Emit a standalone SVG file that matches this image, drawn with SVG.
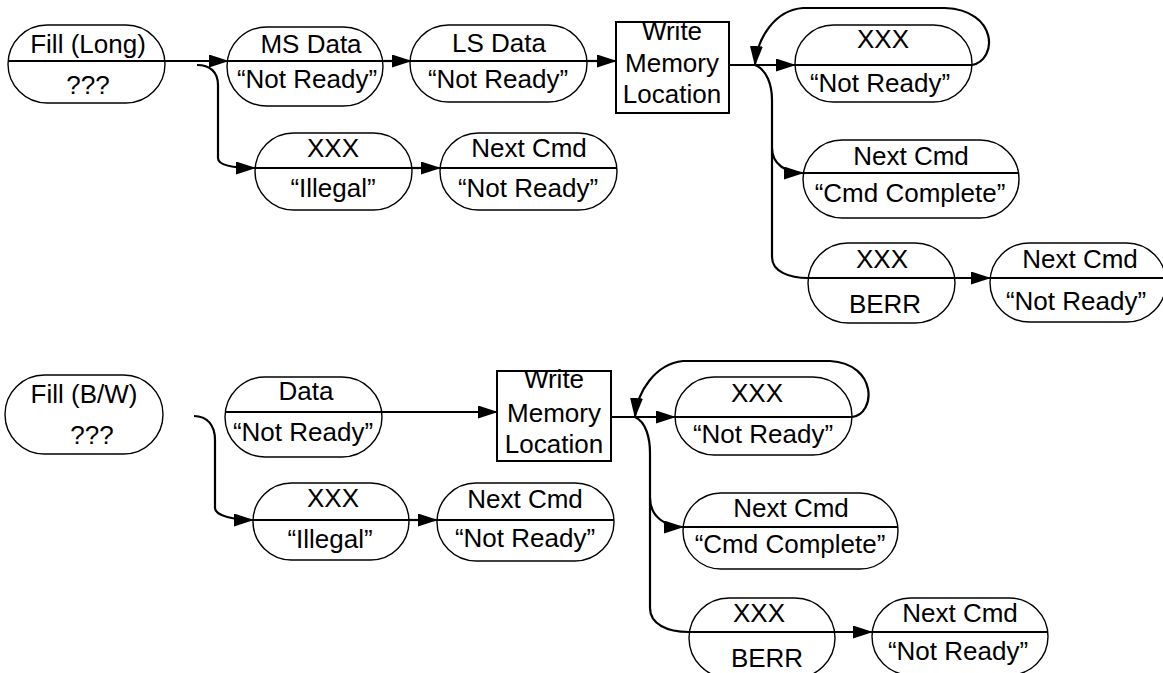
<svg xmlns="http://www.w3.org/2000/svg" width="1163" height="673" viewBox="0 0 1163 673">
<defs>
<style>
.p{fill:#fff;stroke:#000;stroke-width:1.4}
.b{fill:#fff;stroke:#000;stroke-width:2}
.d{stroke:#000;stroke-width:2.2;fill:none}
.c{stroke:#000;stroke-width:2.2;fill:none}
.a{marker-end:url(#ah)}
text{font-family:"Liberation Sans",Arial,sans-serif;font-size:26px;fill:#000;text-anchor:middle}
</style>
<marker id="ah" markerWidth="20" markerHeight="13" refX="19" refY="6.5" orient="auto" markerUnits="userSpaceOnUse"><path d="M0,0 L20,6.5 L0,13 z" fill="#000"/></marker>
</defs>
<rect width="1163" height="673" fill="#fff"/>

<g id="connectors">
<!-- top -->
<line class="c a" x1="165" y1="61" x2="228" y2="61"/>
<path class="c a" d="M197 65 C210 65 218 72 218 85 L218 158 C218 166 236 168 255 168"/>
<line class="c a" x1="383" y1="61" x2="411" y2="61"/>
<line class="c a" x1="587" y1="61" x2="616" y2="61"/>
<line class="c a" x1="412" y1="168" x2="440" y2="168"/>
<line class="c a" x1="729" y1="65" x2="795" y2="65"/>
<path class="c a" d="M972 65 C998 60 998 10 945 8 L803 8 C775 10 757 38 755 65"/>
<path class="c" d="M755 65 C767 70 772 85 772 100 L772 257 C772 272 790 278 808 278"/>
<path class="c a" d="M772 148 C772 164 786 173 803 173"/>
<line class="c a" x1="955" y1="278" x2="990" y2="278"/>
<!-- bottom -->
<path class="c a" d="M194 416 C207 416 215 425 215 440 L215 508 C215 516 235 520 253 520"/>
<line class="c a" x1="382" y1="412" x2="497" y2="412"/>
<line class="c a" x1="409" y1="520" x2="437" y2="520"/>
<line class="c a" x1="611" y1="417" x2="675" y2="417"/>
<path class="c a" d="M852 417 C876 414 878 364 830 361 L683 361 C655 364 637 392 635 417"/>
<path class="c" d="M635 417 C646 422 650 438 650 453 L650 608 C650 624 667 632 689 632"/>
<path class="c a" d="M650 498 C650 516 665 527 683 527"/>
<line class="c a" x1="835" y1="632" x2="872" y2="632"/>
</g>

<!-- top section nodes -->
<g id="fill-long">
<rect class="p" x="8" y="25" width="157" height="78" rx="39"/>
<line class="d" x1="8" y1="61" x2="165" y2="61"/>
<text x="88" y="53">Fill (Long)</text>
<text x="88" y="94">???</text>
</g>
<g id="ms-data">
<rect class="p" x="227" y="27" width="156" height="79" rx="39.5"/>
<line class="d" x1="227" y1="61" x2="383" y2="61"/>
<text x="311" y="53">MS Data</text>
<text x="307" y="88">“Not Ready”</text>
</g>
<g id="ls-data">
<rect class="p" x="410" y="25" width="177" height="77" rx="38.5"/>
<line class="d" x1="410" y1="61" x2="587" y2="61"/>
<text x="499" y="52">LS Data</text>
<text x="498" y="88">“Not Ready”</text>
</g>
<g id="write-top">
<rect class="b" x="616" y="22" width="113" height="91"/>
<text x="672" y="40">Write</text>
<text x="672" y="72">Memory</text>
<text x="672" y="103">Location</text>
</g>
<g id="xxx-illegal-top">
<rect class="p" x="255" y="133" width="157" height="77" rx="38.5"/>
<line class="d" x1="255" y1="168" x2="412" y2="168"/>
<text x="333" y="157">XXX</text>
<text x="333" y="197">“Illegal”</text>
</g>
<g id="next-nr-top">
<rect class="p" x="440" y="133" width="177" height="77" rx="38.5"/>
<line class="d" x1="440" y1="168" x2="617" y2="168"/>
<text x="529" y="157">Next Cmd</text>
<text x="528" y="197">“Not Ready”</text>
</g>
<g id="xxx-nr-top">
<rect class="p" x="795" y="25" width="177" height="77" rx="38.5"/>
<line class="d" x1="795" y1="65" x2="972" y2="65"/>
<text x="883" y="48">XXX</text>
<text x="880" y="92">“Not Ready”</text>
</g>
<g id="next-cc-top">
<rect class="p" x="803" y="140" width="216" height="78" rx="39"/>
<line class="d" x1="803" y1="173" x2="1019" y2="173"/>
<text x="911" y="165">Next Cmd</text>
<text x="910" y="202">“Cmd Complete”</text>
</g>
<g id="xxx-berr-top">
<rect class="p" x="808" y="243" width="147" height="80" rx="40"/>
<line class="d" x1="808" y1="278" x2="955" y2="278"/>
<text x="882" y="268">XXX</text>
<text x="885" y="313">BERR</text>
</g>
<g id="next-nr-right">
<rect class="p" x="990" y="243" width="176" height="79" rx="39.5"/>
<line class="d" x1="990" y1="278" x2="1163" y2="278"/>
<text x="1080" y="268">Next Cmd</text>
<text x="1076" y="310">“Not Ready”</text>
</g>

<!-- bottom section nodes -->
<g id="fill-bw">
<rect class="p" x="5" y="375" width="158" height="79" rx="39.5"/>
<text x="84" y="403">Fill (B/W)</text>
<text x="92" y="444">???</text>
</g>
<g id="data">
<rect class="p" x="225" y="377" width="157" height="80" rx="40"/>
<line class="d" x1="225" y1="412" x2="382" y2="412"/>
<text x="306" y="400">Data</text>
<text x="303" y="441">“Not Ready”</text>
</g>
<g id="write-bottom">
<rect class="b" x="497" y="371" width="114" height="90"/>
<text x="554" y="388">Write</text>
<text x="554" y="422">Memory</text>
<text x="554" y="453">Location</text>
</g>
<g id="xxx-illegal-bottom">
<rect class="p" x="253" y="483" width="156" height="77" rx="38.5"/>
<line class="d" x1="253" y1="520" x2="409" y2="520"/>
<text x="333" y="507">XXX</text>
<text x="330" y="548">“Illegal”</text>
</g>
<g id="next-nr-bottom">
<rect class="p" x="437" y="483" width="177" height="78" rx="39"/>
<line class="d" x1="437" y1="520" x2="614" y2="520"/>
<text x="525" y="508">Next Cmd</text>
<text x="525" y="547">“Not Ready”</text>
</g>
<g id="xxx-nr-bottom">
<rect class="p" x="675" y="377" width="177" height="78" rx="39"/>
<line class="d" x1="675" y1="417" x2="852" y2="417"/>
<text x="757" y="402">XXX</text>
<text x="763" y="443">“Not Ready”</text>
</g>
<g id="next-cc-bottom">
<rect class="p" x="683" y="493" width="215" height="76" rx="38"/>
<line class="d" x1="683" y1="527" x2="898" y2="527"/>
<text x="791" y="517">Next Cmd</text>
<text x="790" y="553">“Cmd Complete”</text>
</g>
<g id="xxx-berr-bottom">
<rect class="p" x="689" y="598" width="146" height="80" rx="40"/>
<line class="d" x1="689" y1="632" x2="835" y2="632"/>
<text x="759" y="622">XXX</text>
<text x="767" y="667">BERR</text>
</g>
<g id="next-nr-bottom-right">
<rect class="p" x="872" y="598" width="176" height="77" rx="38.5"/>
<line class="d" x1="872" y1="632" x2="1048" y2="632"/>
<text x="960" y="622">Next Cmd</text>
<text x="958" y="660">“Not Ready”</text>
</g>
</svg>
